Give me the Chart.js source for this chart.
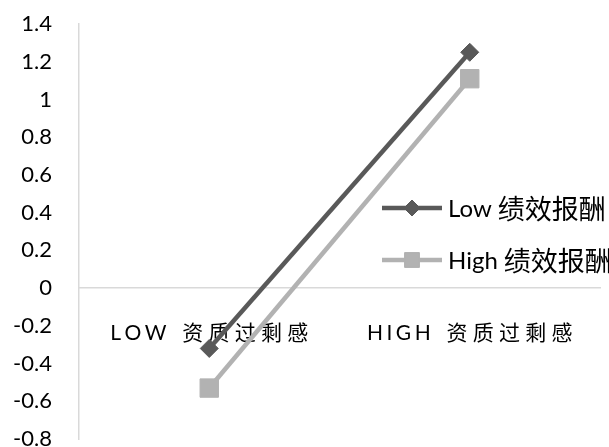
<!DOCTYPE html>
<html>
<head>
<meta charset="utf-8">
<script src="https://cdn.jsdelivr.net/npm/chart.js@4/dist/chart.umd.min.js"></script>
<style>
  html, body { margin: 0; padding: 0; background: #fff; overflow: hidden; }
  canvas { display: block; }
</style>
</head>
<body>
<canvas id="chart" width="614" height="453"></canvas>
<script>
// Categories, series and axis labels
const categories = ['LOW 资质过剩感', 'HIGH 资质过剩感'];
const seriesNames = ['Low 绩效报酬', 'High 绩效报酬'];
const lowPayValues = [-0.32, 1.25];
const highPayValues = [-0.53, 1.11];
const yTickLabels = ['-0.8', '-0.6', '-0.4', '-0.2', '0', '0.2', '0.4', '0.6', '0.8', '1', '1.2', '1.4'];

const DARK = '#595959';
const LIGHT = '#b2b2b2';
const AXIS = '#d9d9d9';
const FONT = "Lato, 'Noto Sans CJK SC', sans-serif";

// Spread the letters of an axis label a little, the way the category titles are set
function spaced(label) {
  return label.split(' ').map(word => {
    const isCJK = /[\u4e00-\u9fff]/.test(word);
    return word.split('').join(isCJK ? '\u2005' : '\u2006');
  }).join('\u2002 ');
}

// Legend drawn at the right, over the plot area
const sideLegend = {
  id: 'sideLegend',
  afterDraw(chart) {
    const ctx = chart.ctx;
    chart.data.datasets.forEach((ds, i) => {
      const y = 208 + i * 52;
      ctx.save();
      ctx.strokeStyle = ds.borderColor;
      ctx.lineWidth = 4.5;
      ctx.beginPath();
      ctx.moveTo(382, y);
      ctx.lineTo(442, y);
      ctx.stroke();
      ctx.fillStyle = ds.backgroundColor;
      ctx.strokeStyle = ds.backgroundColor;
      ctx.lineWidth = 1;
      Chart.helpers.drawPoint(ctx, {
        pointStyle: ds.pointStyle,
        radius: ds.pointStyle === 'rect' ? 10.5 : 8,
        rotation: 0,
        borderWidth: 1
      }, 412, y);
      // Latin word and Chinese words of the series name
      const sep = ds.label.indexOf(' ');
      const head = ds.label.slice(0, sep);
      const tail = ds.label.slice(sep + 1);
      ctx.fillStyle = '#000';
      ctx.textBaseline = 'middle';
      ctx.textAlign = 'left';
      ctx.font = '24px ' + FONT;
      ctx.fillText(head, 448, y + 1);
      const x2 = 448 + ctx.measureText(head).width + 6;
      ctx.font = "27px 'Noto Sans CJK SC', sans-serif";
      ctx.fillText(tail, x2, y + 1);
      ctx.restore();
    });
  }
};

new Chart(document.getElementById('chart'), {
  type: 'line',
  data: {
    labels: categories,
    datasets: [
      {
        label: seriesNames[0],
        data: lowPayValues,
        borderColor: DARK,
        backgroundColor: DARK,
        borderWidth: 4.5,
        pointStyle: 'rectRot',
        pointRadius: 9,
        pointHoverRadius: 9,
        pointBorderWidth: 1
      },
      {
        label: seriesNames[1],
        data: highPayValues,
        borderColor: LIGHT,
        backgroundColor: LIGHT,
        borderWidth: 4.5,
        pointStyle: 'rect',
        pointRadius: 13,
        pointHoverRadius: 13,
        pointBorderWidth: 1
      }
    ]
  },
  options: {
    responsive: false,
    animation: false,
    devicePixelRatio: 1,
    events: [],
    layout: { padding: { top: 24, bottom: 3, left: 0, right: 0 } },
    plugins: {
      legend: { display: false },
      tooltip: { enabled: false }
    },
    scales: {
      x: {
        type: 'category',
        offset: true,
        position: { y: 0 },
        grid: { display: false, drawTicks: false },
        border: { display: true, color: AXIS, width: 1.5 },
        ticks: {
          padding: 33,
          color: '#000',
          autoSkip: false,
          maxRotation: 0,
          font: { family: FONT, size: 21 },
          callback: (value, index) => spaced(categories[index])
        }
      },
      y: {
        min: -0.8,
        max: 1.4,
        grid: { display: false, drawTicks: false },
        border: { display: true, color: AXIS, width: 1.5 },
        ticks: {
          stepSize: 0.2,
          padding: 27,
          color: '#000',
          font: { family: 'Lato', size: 22 },
          callback: (value, index) => yTickLabels[index]
        },
        afterFit(scale) {
          scale.width = 79;
          scale.paddingTop = 0;
          scale.paddingBottom = 0;
        }
      }
    }
  },
  plugins: [sideLegend]
});
</script>
</body>
</html>
